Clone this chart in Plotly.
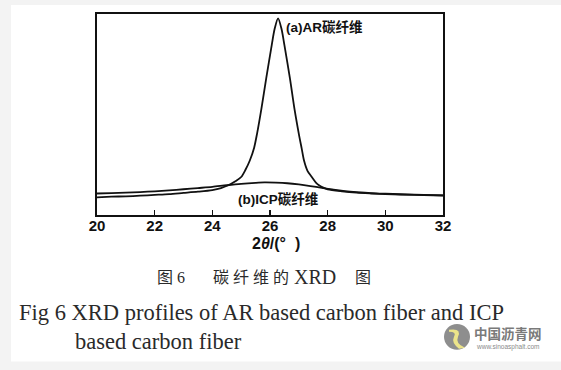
import plotly.graph_objects as go

# ---- data ----
ar_two_theta = [20.0, 20.5, 21.0, 21.5, 22.0, 22.5, 23.0, 23.5, 24.0, 24.3, 24.55, 24.8,
                25.0, 25.15, 25.3, 25.45, 25.55, 25.7, 25.87, 26.06, 26.16, 26.28,
                26.4, 26.5, 26.69, 26.85, 27.0, 27.1, 27.18, 27.3, 27.45, 27.6, 27.7,
                27.85, 28.0, 28.5, 29.0, 29.5, 30.0, 31.0, 32.0]
ar_intensity = [88, 91, 93, 96, 100, 104, 110, 116, 124, 134, 148, 168,
                189, 225, 271, 335, 404, 527, 681, 845, 925, 978,
                925, 845, 681, 527, 404, 330, 271, 220, 189, 160, 148,
                136, 128, 118, 111, 107, 104, 100, 97]

icp_two_theta = [20.0, 20.5, 21.0, 21.5, 22.0, 22.5, 23.0, 23.5, 24.0, 24.5, 25.0,
                 25.5, 25.8, 26.2, 26.6, 27.0, 27.4, 27.8, 28.2, 28.6, 29.0, 29.5,
                 30.0, 31.0, 32.0]
icp_intensity = [107, 109, 111, 114, 118, 123, 128, 134, 140, 148, 155,
                 160, 162, 161, 158, 152, 144, 135, 126, 119, 114, 109,
                 106, 101, 98]

x_ticks = [20, 22, 24, 26, 28, 30, 32]
x_tick_labels = ["20", "22", "24", "26", "28", "30", "32"]

label_a = "(a)AR碳纤维"
label_b = "(b)ICP碳纤维"
x_title = "2<i>θ</i>/(°  )"
caption_cn_parts = ["图 6", "碳 纤 维 的", "XRD", "图"]
caption_en1 = "Fig 6 XRD profiles of AR based carbon fiber and ICP"
caption_en2 = "based carbon fiber"
wm_cn = "中国沥青网"
wm_url = "www.sinoasphalt.com"

# ---- layout geometry (pixels) ----
W, H = 561, 370
L, R, T, B = 97, 443, 12, 215


def PX(px):
    return (px - L) / (R - L)


def PY(py):
    return (B - py) / (B - T)


fig = go.Figure()
line_style = dict(color="#111111", width=1.8)
fig.add_trace(go.Scatter(x=icp_two_theta, y=icp_intensity, mode="lines",
                         line=dict(shape="spline", smoothing=0.8, **line_style),
                         hoverinfo="skip", showlegend=False))
fig.add_trace(go.Scatter(x=ar_two_theta, y=ar_intensity, mode="lines",
                         line=dict(shape="spline", smoothing=0.8, **line_style),
                         hoverinfo="skip", showlegend=False))

sans_bold = "Liberation Sans, Arial, Noto Sans CJK SC, sans-serif"
serif = "Liberation Serif, Times New Roman, Noto Sans CJK SC, serif"
cap_color = "#2a2a2a"


def ann(text, px, py, size, family, color, xanchor="left"):
    return dict(text=text, x=PX(px), y=PY(py), xref="paper", yref="paper",
                xanchor=xanchor, yanchor="middle", showarrow=False,
                font=dict(family=family, size=size, color=color))


annotations = [
    ann("<b>" + label_a + "</b>", 284, 25, 13.5, sans_bold, "#111"),
    ann("<b>" + label_b + "</b>", 236, 199, 13.5, sans_bold, "#111"),
    ann("<b>" + x_title + "</b>", 276, 244, 16, sans_bold, "#111", "center"),
    ann(caption_cn_parts[0], 155, 278, 16, serif, cap_color),
    ann(caption_cn_parts[1], 211, 278, 16, serif, cap_color),
    ann(caption_cn_parts[2], 292, 278, 20, serif, cap_color),
    ann(caption_cn_parts[3], 353, 278, 16, serif, cap_color),
    ann(caption_en1, 17, 313, 22.5, serif, cap_color),
    ann(caption_en2, 73, 343, 22.5, serif, cap_color),
    ann("<b>" + wm_cn + "</b>", 472, 334, 13.5, "Noto Sans CJK SC, sans-serif", "#7a7a7a"),
    ann(wm_url, 474, 348, 6.5, "Liberation Sans, Arial, sans-serif", "#8a8a8a"),
]

shapes = [
    # white card on grey page
    dict(type="rect", xref="paper", yref="paper", x0=PX(11), x1=PX(561), y0=PY(363), y1=PY(3),
         fillcolor="white", line=dict(width=0), layer="below"),
    # watermark logo
    dict(type="circle", xref="paper", yref="paper", x0=PX(444), x1=PX(470), y0=PY(351), y1=PY(325),
         fillcolor="#8e8e8e", line=dict(width=0), layer="above"),
    dict(type="path", xref="paper", yref="paper",
         path=f"M {PX(449)} {PY(331)} Q {PX(462)} {PY(329)} {PX(458)} {PY(338)} "
              f"Q {PX(455)} {PY(345)} {PX(465)} {PY(349)} L {PX(459)} {PY(350)} "
              f"Q {PX(451)} {PY(344)} {PX(454)} {PY(338)} Q {PX(457)} {PY(333)} {PX(449)} {PY(333)} Z",
         fillcolor="#ece48a", line=dict(width=0), layer="above"),
]

fig.update_layout(
    width=W, height=H,
    margin=dict(l=L, r=W - R, t=T, b=H - B, pad=0),
    paper_bgcolor="#f3f3f3",
    plot_bgcolor="white",
    showlegend=False,
    annotations=annotations,
    shapes=shapes,
    xaxis=dict(range=[20, 32], tickvals=x_ticks, ticktext=x_tick_labels,
               ticks="inside", ticklen=5, tickwidth=1.5, tickcolor="#111",
               ticklabelstandoff=-4,
               showline=True, linecolor="#111", linewidth=2, mirror=True,
               showgrid=False, zeroline=False,
               tickfont=dict(family=sans_bold, size=15, color="#111", weight="bold")),
    yaxis=dict(range=[0, 1000], showticklabels=False, ticks="",
               showline=True, linecolor="#111", linewidth=2, mirror=True,
               showgrid=False, zeroline=False),
)

fig.write_html("out.html",
               config={"displayModeBar": False, "staticPlot": True},
               post_script="document.body.style.margin='0';"
                           "document.body.style.background='#f3f3f3';")
